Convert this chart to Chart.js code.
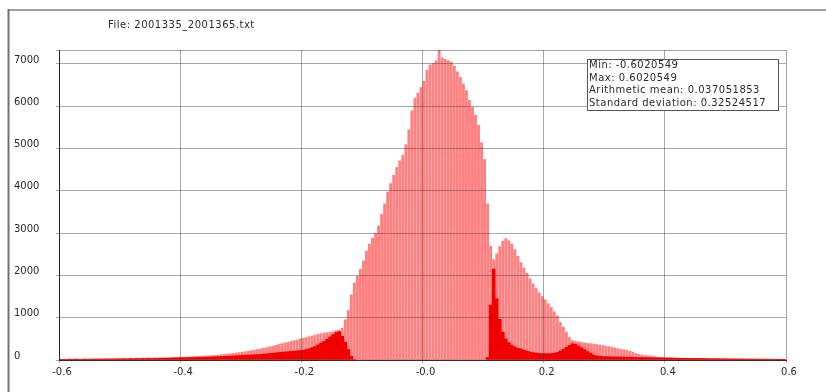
<!DOCTYPE html>
<html>
<head>
<meta charset="utf-8">
<script src="https://cdn.jsdelivr.net/npm/chart.js@4.4.1/dist/chart.umd.min.js"></script>
<style>
  html, body { margin: 0; padding: 0; background: #fff; }
  canvas { display: block; }
</style>
</head>
<body>
<canvas id="hist" width="826" height="392"></canvas>
<script>
// Header text and summary statistics
const fileTitle = 'File: 2001335_2001365.txt';
const statsLines = [
  'Min: -0.6020549',
  'Max: 0.6020549',
  'Arithmetic mean: 0.037051853',
  'Standard deviation: 0.32524517'
];

// Histogram bins: 240 bins of width 0.005 from -0.6 to 0.6
const binStart = -0.6;
const binWidth = 0.005;

// Counts per bin, all samples (light bars)
const countsAll = [
  28, 30, 26, 32, 30, 34, 31, 29, 35, 33, 36, 34, 38, 35, 40, 37, 41, 39, 43, 45,
  44, 47, 46, 50, 48, 52, 50, 54, 53, 57, 55, 59, 58, 62, 61, 66, 64, 69, 70, 74,
  76, 80, 78, 85, 88, 92, 95, 100, 104, 108, 114, 120, 126, 134, 140, 150, 158, 166, 176, 184,
  192, 205, 215, 228, 240, 255, 268, 285, 300, 318, 335, 352, 375, 392, 410, 428, 446, 465, 482, 505,
  520, 540, 560, 575, 590, 615, 630, 645, 655, 662, 680, 700, 712, 760, 960, 1180, 1550, 1830, 1990, 2150,
  2350, 2580, 2750, 2890, 3000, 3180, 3450, 3700, 3980, 4180, 4380, 4560, 4720, 4850, 5100, 5450, 5900, 6200, 6320, 6450,
  6600, 6860, 6980, 7020, 7080, 7330, 7150, 7120, 7090, 7050, 6950, 6820, 6690, 6540, 6380, 6150, 5980, 5800, 5560, 5150,
  4750, 3700, 2700, 2380, 2520, 2690, 2820, 2880, 2830, 2750, 2620, 2460, 2310, 2180, 2060, 1930, 1810, 1700, 1600, 1510,
  1430, 1340, 1250, 1150, 1050, 900, 780, 660, 540, 470, 450, 440, 425, 415, 400, 395, 385, 375, 365, 350,
  340, 325, 310, 295, 280, 265, 250, 238, 215, 190, 160, 140, 125, 115, 108, 100, 88, 80, 72, 66,
  64, 60, 58, 55, 53, 50, 48, 47, 45, 43, 42, 41, 40, 39, 38, 37, 36, 35, 35, 34,
  33, 32, 32, 31, 30, 30, 29, 29, 28, 28, 27, 27, 26, 26, 25, 25, 24, 24, 23, 23
];

// Counts per bin, flagged subset (solid red bars)
const countsFlagged = [
  14, 16, 13, 17, 15, 18, 16, 15, 19, 17, 18, 20, 19, 21, 20, 22, 21, 23, 22, 24,
  24, 26, 25, 28, 27, 30, 29, 32, 31, 34, 33, 36, 35, 38, 39, 41, 42, 45, 46, 49,
  51, 53, 55, 57, 58, 61, 63, 65, 68, 70, 73, 76, 79, 82, 86, 89, 93, 96, 100, 104,
  108, 112, 116, 119, 123, 127, 131, 138, 145, 152, 160, 168, 176, 184, 190, 196, 202, 208, 215, 222,
  230, 245, 265, 290, 320, 360, 400, 440, 490, 545, 600, 650, 670, 560, 420, 250, 90, 10, 0, 0,
  0, 0, 0, 0, 0, 0, 0, 0, 0, 0, 0, 0, 0, 0, 0, 0, 0, 0, 0, 0,
  0, 0, 0, 0, 0, 0, 0, 0, 0, 0, 0, 0, 0, 0, 0, 0, 0, 0, 0, 0,
  0, 60, 1300, 2150, 1450, 960, 660, 500, 410, 350, 310, 280, 260, 235, 210, 190, 175, 165, 155, 150,
  150, 150, 152, 160, 180, 215, 255, 300, 345, 385, 370, 335, 290, 245, 200, 160, 120, 100, 90, 82,
  80, 78, 76, 74, 72, 70, 68, 67, 65, 63, 62, 61, 60, 58, 57, 55, 53, 52, 50, 48,
  46, 45, 44, 42, 41, 40, 39, 38, 37, 36, 35, 34, 33, 32, 31, 30, 30, 29, 28, 27,
  26, 25, 25, 24, 23, 23, 22, 22, 21, 21, 20, 20, 19, 19, 18, 18, 17, 17, 16, 16
];

// Axis ticks
const xTickValues = [-0.6, -0.4, -0.2, 0, 0.2, 0.4, 0.6];
const xTickLabels = ['-0.6', '-0.4', '-0.2', '-0.0', '0.2', '0.4', '0.6'];
const yTickValues = [0, 1000, 2000, 3000, 4000, 5000, 6000, 7000];
const yTickLabels = ['0', '1000', '2000', '3000', '4000', '5000', '6000', '7000'];
const yMax = 7330;

const binCenters = countsAll.map((_, i) => +(binStart + binWidth * (i + 0.5)).toFixed(4));

const fontFamily = "'DejaVu Sans', Verdana, sans-serif";
Chart.defaults.font.family = fontFamily;
Chart.defaults.font.size = 10;
Chart.defaults.color = '#2a2a2a';

const gridColor = 'rgba(60,60,60,0.45)';
const fontSpec = '10px ' + fontFamily;

// Window frame, file header and statistics box
const decorations = {
  id: 'decorations',
  beforeDraw(chart) {
    const c = chart.ctx;
    c.save();
    c.fillStyle = '#fff';
    c.fillRect(0, 0, chart.width, chart.height);
    c.lineWidth = 2;
    c.strokeStyle = '#a0a0a0';
    c.beginPath(); c.moveTo(8, 10); c.lineTo(chart.width, 10); c.stroke();
    c.strokeStyle = '#707070';
    c.beginPath(); c.moveTo(8.5, 9); c.lineTo(8.5, chart.height); c.stroke();
    c.restore();
  },
  afterDraw(chart) {
    const c = chart.ctx;
    c.save();
    c.font = fontSpec;
    c.letterSpacing = '0.5px';
    c.fillStyle = '#2a2a2a';
    c.textBaseline = 'middle';
    c.textAlign = 'left';
    c.fillText(fileTitle, 108, 25);

    const bx = 587.5, by = 59.5, bw = 191, bh = 51;
    c.fillStyle = '#fff';
    c.fillRect(bx, by, bw, bh);
    c.strokeStyle = '#555';
    c.lineWidth = 1;
    c.strokeRect(bx, by, bw, bh);
    c.fillStyle = '#2a2a2a';
    statsLines.forEach((line, i) => c.fillText(line, bx + 1.5, by + 6 + i * 12.5));
    c.restore();
  }
};

new Chart(document.getElementById('hist'), {
  type: 'bar',
  data: {
    labels: binCenters,
    datasets: [
      {
        label: 'flagged',
        data: countsFlagged,
        backgroundColor: '#f00000',
        barPercentage: 1,
        categoryPercentage: 1,
        grouped: false,
        order: 0
      },
      {
        label: 'all',
        data: countsAll,
        backgroundColor: 'rgb(255,128,128)',
        barPercentage: 0.95,
        categoryPercentage: 1,
        grouped: false,
        order: 1
      }
    ]
  },
  options: {
    responsive: false,
    animation: false,
    events: [],
    layout: { padding: { left: 14, top: 50, right: 40, bottom: 0 } },
    plugins: {
      legend: { display: false },
      tooltip: { enabled: false },
      title: { display: false }
    },
    scales: {
      x: {
        type: 'linear',
        min: -0.6,
        max: 0.6,
        offset: false,
        grid: { offset: false, color: gridColor, z: 1, tickLength: 3 },
        border: { color: '#222', z: 1 },
        afterBuildTicks: s => { s.ticks = xTickValues.map(v => ({ value: v })); },
        afterFit: s => { s.height = 32; },
        ticks: {
          autoSkip: false,
          maxRotation: 0,
          padding: 3,
          labelOffset: 3,
          callback: (v, i) => xTickLabels[i]
        }
      },
      y: {
        min: 0,
        max: yMax,
        grid: { color: gridColor, z: 1, tickLength: 3 },
        border: { color: '#222', z: 1 },
        afterBuildTicks: s => {
          s.ticks = yTickValues.map(v => ({ value: v })).concat([{ value: yMax }]);
        },
        afterFit: s => { s.width = 45; },
        ticks: {
          autoSkip: false,
          crossAlign: 'far',
          padding: 8,
          labelOffset: -4,
          callback: (v, i) => (i < yTickLabels.length ? yTickLabels[i] : '')
        }
      }
    }
  },
  plugins: [decorations]
});
</script>
</body>
</html>
